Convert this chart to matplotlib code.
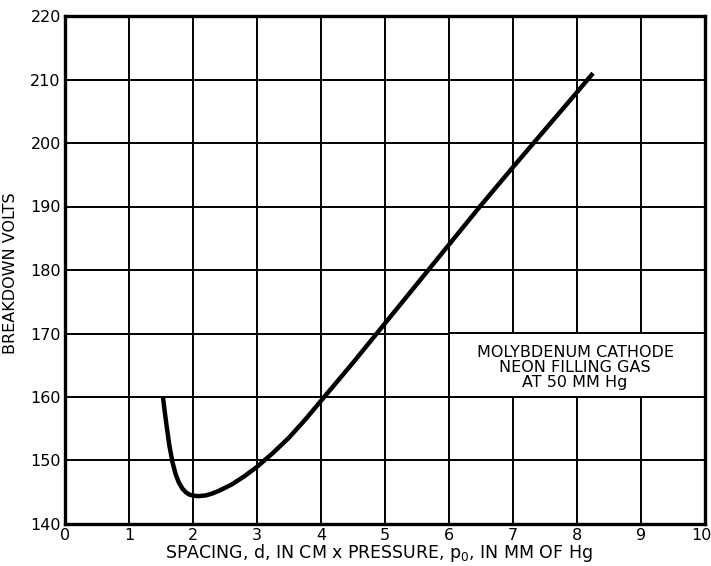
import matplotlib
matplotlib.use("Agg")
import matplotlib.pyplot as plt
import matplotlib.transforms as mtransforms
from matplotlib.patches import Rectangle

# breakdown curve
spacing = [1.53, 1.58, 1.63, 1.68, 1.73, 1.78, 1.84, 1.9, 1.95, 2.0, 2.05, 2.1,
           2.2, 2.3, 2.4, 2.5, 2.6, 2.8, 3.0, 3.25, 3.5, 3.75, 4.0, 4.5, 5.0,
           5.5, 6.0, 6.5, 7.0, 7.5, 8.0, 8.25]
volts = [160.0, 156.0, 152.4, 149.7, 147.8, 146.5, 145.5, 144.9, 144.6, 144.5,
         144.4, 144.4, 144.5, 144.8, 145.2, 145.7, 146.2, 147.5, 149.0, 151.2,
         153.6, 156.4, 159.4, 165.4, 171.6, 177.8, 184.0, 190.2, 196.2, 202.1,
         208.0, 211.0]

x_ticks = list(range(0, 11))
y_ticks = list(range(140, 221, 10))
note = "MOLYBDENUM CATHODE\nNEON FILLING GAS\nAT 50 MM Hg"

plt.rcParams['font.family'] = ['DejaVu Sans']

fig = plt.figure(figsize=(7.11, 5.66), dpi=100)
ax = fig.add_axes([65 / 711, 42 / 566, 640 / 711, 508 / 566])
ax.set_xlim(0, 10)
ax.set_ylim(140, 220)

for x in x_ticks:
    ax.axvline(x, color='black', lw=1.4, zorder=1)
for y in y_ticks:
    ax.axhline(y, color='black', lw=1.4, zorder=1)

# label box blanks out the grid inside it
ax.add_patch(Rectangle((6, 160), 4, 10, facecolor='white', edgecolor='black',
                       lw=1.4, zorder=2))
ax.text(7.97, 164.6, note, ha='center', va='center', fontsize=11.5,
        linespacing=1.0, zorder=3)

ax.plot(spacing, volts, color='black', lw=3.2, solid_capstyle='butt',
        solid_joinstyle='round', zorder=4)

ax.set_xticks(x_ticks)
ax.set_yticks(y_ticks)
ax.tick_params(length=0, pad=3, labelsize=11.5)
for s in ax.spines.values():
    s.set_linewidth(2.4)
    s.set_zorder(5)

# nudge the "10" in so it stays on the canvas
last = ax.get_xticklabels()[-1]
last.set_transform(last.get_transform() +
                   mtransforms.ScaledTranslation(-4 / 100, 0, fig.dpi_scale_trans))

ax.set_ylabel('BREAKDOWN VOLTS', fontsize=11.5)
ax.yaxis.set_label_coords(-47 / 640, (566 - 273 - 42) / 508)
ax.set_xlabel('SPACING, d, IN CM x PRESSURE, p$_\\mathregular{0}$, IN MM OF Hg',
              fontsize=12.5)
ax.xaxis.set_label_coords((379 - 65) / 640, -(542 - 524) / 508)

fig.savefig('out.png', dpi=100)
